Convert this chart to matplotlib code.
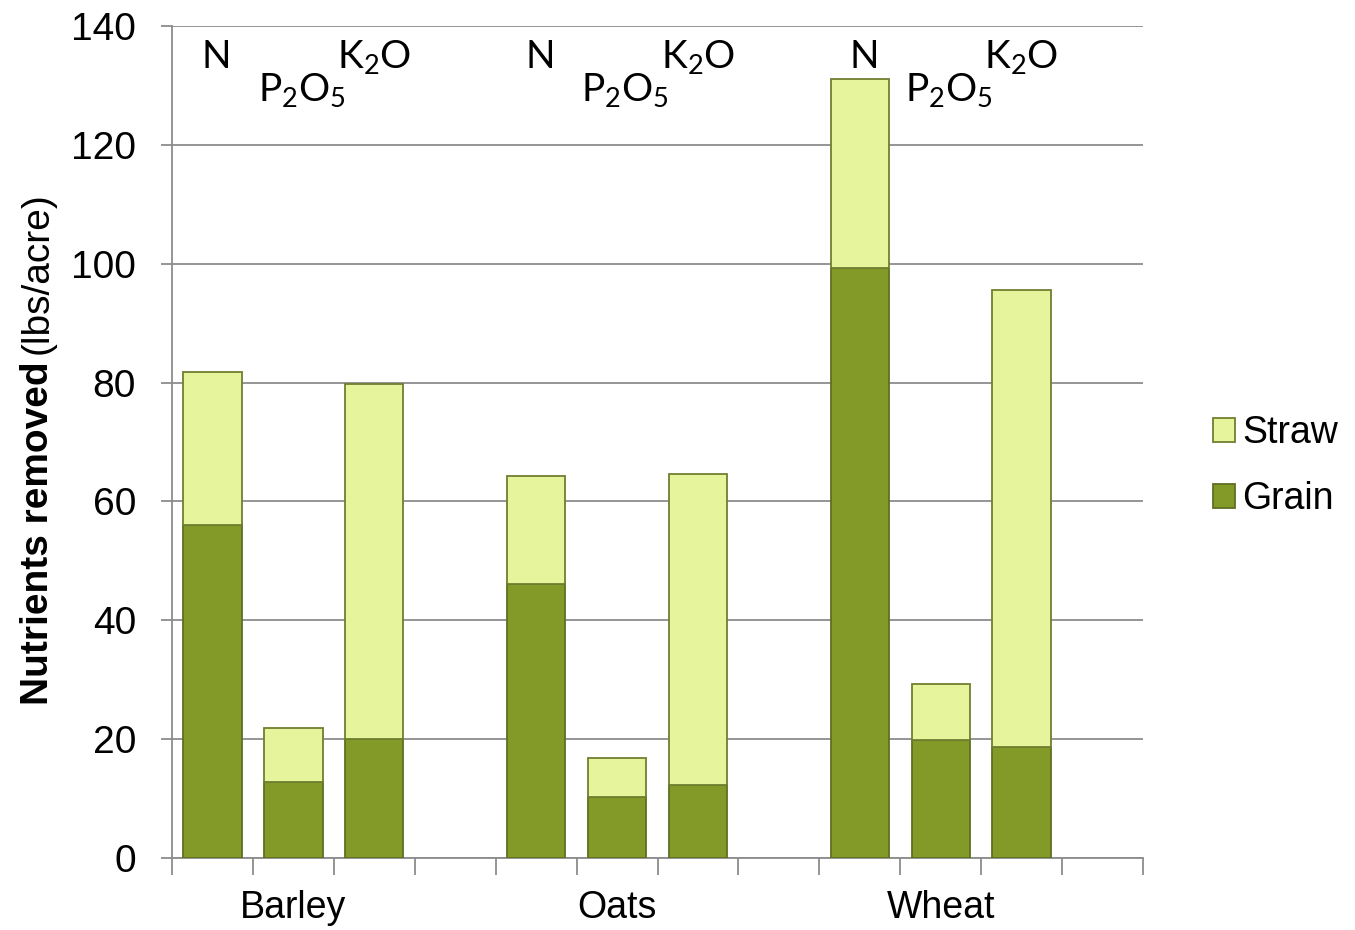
import numpy as np
import matplotlib.pyplot as plt
from matplotlib.patches import Patch

plt.rcParams['font.family'] = ['Liberation Sans', 'DejaVu Sans']
plt.rcParams['mathtext.fontset'] = 'custom'
plt.rcParams['mathtext.rm'] = 'Lato'
plt.rcParams['mathtext.it'] = 'Lato'

crops = ['Barley', 'Oats', 'Wheat']
nutrients = ['N', 'P$_2$O$_5$', 'K$_2$O']
grain = [56, 12.8, 20.1, 46.1, 10.2, 12.3, 99.3, 19.9, 18.6]
total = [81.7, 21.8, 79.7, 64.2, 16.9, 64.7, 131.1, 29.3, 95.5]
straw = [t - g for t, g in zip(total, grain)]

grain_col = '#849A28'
grain_edge = '#5E7020'
straw_col = '#E6F59B'
straw_edge = '#6F7F30'
grid_col = '#8C8C8C'

# three bars per crop, one empty slot between crops
xpos = [4 * c + n for c in range(3) for n in range(3)]

fig = plt.figure(figsize=(13.55, 9.3), dpi=100)
ax = fig.add_axes([0.127, 0.0774, 0.7165, 0.8946])

ax.bar(xpos, grain, width=0.72, color=grain_col, edgecolor=grain_edge, linewidth=1.3, zorder=3)
ax.bar(xpos, straw, bottom=grain, width=0.72, color=straw_col, edgecolor=straw_edge, linewidth=1.3, zorder=3)

ax.set_xlim(-0.5, 11.5)
ax.set_ylim(0, 140)
ax.set_yticks(range(0, 141, 20))
ax.yaxis.grid(True, color=grid_col, linewidth=1.3, zorder=0)
ax.tick_params(axis='y', length=8, width=1.3, color=grid_col, pad=18, labelsize=28)

ax.set_xticks([1, 5, 9])
ax.set_xticklabels(crops)
ax.set_xticks(np.arange(-0.5, 12, 1), minor=True)
ax.tick_params(axis='x', which='major', length=0, pad=23, labelsize=27)
ax.tick_params(axis='x', which='minor', length=12, width=1.3, color=grid_col)

for s in ['top', 'right']:
    ax.spines[s].set_visible(False)
for s in ['left', 'bottom']:
    ax.spines[s].set_color(grid_col)
    ax.spines[s].set_linewidth(1.3)

# nutrient labels above each crop group
lab_dx = [0.05, 0.1, 0.0]
lab_y = [134.8, 129.3, 134.8]
for c in range(3):
    for n in range(3):
        ax.text(4 * c + n + lab_dx[n], lab_y[n], nutrients[n], ha='center', va='center',
                fontsize=28, fontfamily='Lato', zorder=4)

handles = [Patch(facecolor=straw_col, edgecolor=straw_edge, linewidth=1.3),
           Patch(facecolor=grain_col, edgecolor=grain_edge, linewidth=1.3)]
fig.legend(handles, ['Straw', 'Grain'], loc='center left', bbox_to_anchor=(0.881, 0.499),
           frameon=False, fontsize=27, handlelength=0.6, handleheight=0.6,
           handletextpad=0.2, labelspacing=0.8, borderpad=0)

# y label: bold part then normal part
t1 = fig.text(0.028, 0.242, 'Nutrients removed', rotation=90, ha='center', va='bottom',
              fontsize=28, fontweight='bold')
fig.canvas.draw()
bb = t1.get_window_extent(fig.canvas.get_renderer())
top = bb.y1 / fig.bbox.height
fig.text(0.028, top + 0.008, '(lbs/acre)', rotation=90, ha='center', va='bottom', fontsize=28)

fig.savefig('out.png', dpi=100)
